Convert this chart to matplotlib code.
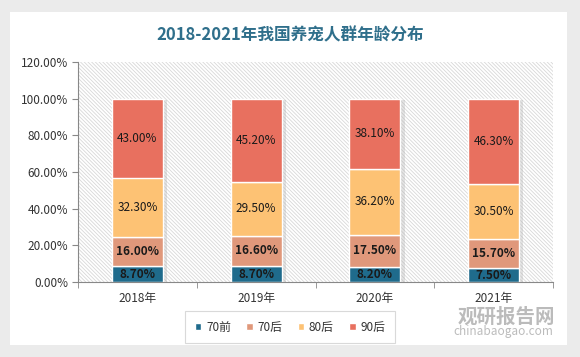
import numpy as np
import matplotlib
matplotlib.use("Agg")
import matplotlib.pyplot as plt
from matplotlib.patches import Rectangle

plt.rcParams['font.family'] = ['Noto Sans CJK SC', 'DejaVu Sans']
plt.rcParams['hatch.color'] = '#cccccc'
plt.rcParams['hatch.linewidth'] = 0.6

years = ["2018年", "2019年", "2020年", "2021年"]
groups = ["70前", "70后", "80后", "90后"]
v70q = [8.7, 8.7, 8.2, 7.5]
v70h = [16.0, 16.6, 17.5, 15.7]
v80h = [32.3, 29.5, 36.2, 30.5]
v90h = [43.0, 45.2, 38.1, 46.3]
colors = ["#1f6b8c", "#e0987b", "#fdc274", "#e8705f"]
bold = [True, True, False, False]

W, H = 580, 357
fig = plt.figure(figsize=(W / 100, H / 100), dpi=100)
fig.patch.set_facecolor("#ebebeb")
# white card
fig.patches.append(Rectangle((10 / W, 12 / H), 557 / W, 333 / H,
                             transform=fig.transFigure, facecolor="white",
                             edgecolor="none", zorder=-10))

ax = fig.add_axes([78 / W, 1 - 282 / H, 475 / W, 220 / H])
ax.set_facecolor("none")
ax.add_patch(Rectangle((0, 0), 1, 1, transform=ax.transAxes, facecolor="white",
                       edgecolor="#d8d8d8", hatch="\\" * 9, lw=0, zorder=0))

x = np.arange(len(years))
bw = 0.43
series = [v70q, v70h, v80h, v90h]
bottom = np.zeros(len(years))
for vals, c, g, b in zip(series, colors, groups, bold):
    vals = np.array(vals)
    # soft shadow
    ax.bar(x + 0.035, vals, bw, bottom=bottom - 0.8, color="#b0b0b0", alpha=0.35,
           edgecolor="none", zorder=1)
    ax.bar(x, vals, bw, bottom=bottom, color=c, edgecolor="white", linewidth=1.0,
           label=g, zorder=2)
    for xi, v, bt in zip(x, vals, bottom):
        ax.text(xi, bt + v / 2, f"{v:.2f}%", ha="center", va="center",
                fontsize=8.5, color="#1a1a1a", fontweight="bold" if b else "normal",
                zorder=3)
    bottom += vals

ax.set_xlim(-0.5, len(years) - 0.5)
ax.set_ylim(0, 120)
ax.set_yticks(np.arange(0, 121, 20))
ax.set_yticklabels([f"{t:.2f}%" for t in np.arange(0, 121, 20)], fontsize=8.5,
                   color="#333333")
ax.set_xticks(x)
ax.set_xticklabels(years, fontsize=8.5, color="#333333")
ax.tick_params(axis="x", length=0, pad=7)
ax.set_xticks(np.arange(-0.5, len(years)), minor=True)
ax.tick_params(axis="x", which="minor", length=4, color="#888888", direction="out")
ax.tick_params(axis="y", length=4, color="#888888", pad=3)
for s in ["top", "right"]:
    ax.spines[s].set_visible(False)
for s in ["left", "bottom"]:
    ax.spines[s].set_color("#888888")
    ax.spines[s].set_linewidth(0.8)

fig.text(0.5, 1 - 35 / H, "2018-2021年我国养宠人群年龄分布", ha="center", va="center",
         fontsize=12, fontweight="bold", color="#2f6f8b")

leg = fig.legend(loc="center", bbox_to_anchor=(290 / W, 1 - 327 / H), ncol=4,
                 fontsize=8.5, frameon=True, handlelength=0.55, handleheight=0.55,
                 handletextpad=0.4, columnspacing=1.3, borderpad=0.5)
leg.get_frame().set_edgecolor("#d0d0d0")
leg.get_frame().set_linewidth(0.8)
leg.get_frame().set_boxstyle("square")
for t in leg.get_texts():
    t.set_color("#333333")

# watermark
fig.text(555 / W, 1 - 317 / H, "观研报告网", ha="right", va="center", fontsize=14,
         fontweight="bold", color="#b0b0b0", alpha=0.85)
fig.text(553 / W, 1 - 332 / H, "chinabaogao.com", ha="right", va="center",
         fontsize=8.5, color="#b0b0b0", alpha=0.85)

fig.savefig("out.png", dpi=100, facecolor=fig.get_facecolor())
